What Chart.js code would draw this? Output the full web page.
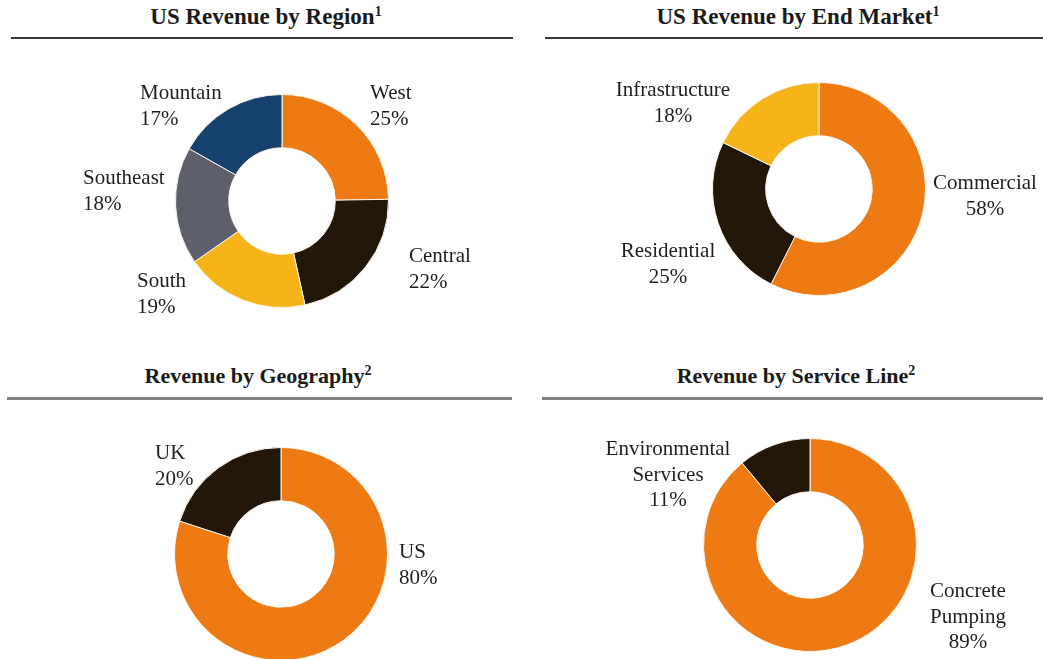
<!DOCTYPE html>
<html>
<head>
<meta charset="utf-8">
<script src="https://cdn.jsdelivr.net/npm/chart.js@4.4.1/dist/chart.umd.min.js"></script>
<style>
  html, body { margin: 0; padding: 0; background: #fff; }
  body { width: 1043px; height: 659px; position: relative; overflow: hidden; }
  canvas { position: absolute; }
  .title {
    position: absolute; text-align: center; white-space: nowrap;
    font-family: 'Liberation Serif', 'Times New Roman', serif;
    font-weight: bold; font-size: 22px; line-height: 22px; color: #1a1a1a;
  }
  .title.big { font-size: 23px; }
  .title sup { font-size: 14px; vertical-align: 0; position: relative; top: -8px; }
  .rule { position: absolute; height: 2px; }
</style>
</head>
<body>
<div class="title big" style="left:66px; width:400px; top:6px;">US Revenue by Region<sup>1</sup></div>
<div class="rule" style="left:11px; width:502px; top:37px; background:#3a3a3a;"></div>
<div class="title big" style="left:598px; width:400px; top:6px;">US Revenue by End Market<sup>1</sup></div>
<div class="rule" style="left:545px; width:498px; top:37px; background:#3a3a3a;"></div>
<div class="title" style="left:58px; width:400px; top:365px;">Revenue by Geography<sup>2</sup></div>
<div class="rule" style="left:7px; width:505px; top:397px; height:3px; background:#808080;"></div>
<div class="title" style="left:596px; width:400px; top:365px;">Revenue by Service Line<sup>2</sup></div>
<div class="rule" style="left:542px; width:501px; top:397px; height:3px; background:#808080;"></div>

<canvas id="region" width="521" height="296" style="left:0; top:42px;"></canvas>
<canvas id="market" width="522" height="296" style="left:521px; top:42px;"></canvas>
<canvas id="geo" width="521" height="270" style="left:0; top:402px;"></canvas>
<canvas id="service" width="522" height="257" style="left:521px; top:402px;"></canvas>

<script>
// data
const regionLabels = ['West', 'Central', 'South', 'Southeast', 'Mountain'];
const regionValues = [25, 22, 19, 18, 17];

const marketLabels = ['Commercial', 'Residential', 'Infrastructure'];
const marketValues = [58, 25, 18];

const geoLabels = ['US', 'UK'];
const geoValues = [80, 20];

const serviceLabels = [['Concrete', 'Pumping'], ['Environmental', 'Services']];
const serviceValues = [89, 11];

// colours
const orange = '#EE7A13';
const dark = '#221708';
const yellow = '#F7B419';
const gray = '#5D5F6B';
const navy = '#18426E';

// label placement, relative to the ring centre (x, baseline of first line)
const labelFont = "21px 'Liberation Serif', 'Times New Roman', serif";

const sliceLabels = {
  id: 'sliceLabels',
  afterDraw(chart, args, opts) {
    const ctx = chart.ctx;
    const arc = chart.getDatasetMeta(0).data[0];
    if (!arc) return;
    const cx = arc.x, cy = arc.y;
    const labels = chart.data.labels;
    const values = chart.data.datasets[0].data;
    ctx.save();
    ctx.font = labelFont;
    ctx.fillStyle = '#1e1e1e';
    ctx.textAlign = opts.align;
    ctx.textBaseline = 'alphabetic';
    labels.forEach((lab, i) => {
      const pos = opts.pos[i];
      const lines = [].concat(lab, values[i] + '%');
      lines.forEach((t, j) => {
        ctx.fillText(t, cx + pos[0], cy + pos[1] + j * opts.lineHeight);
      });
    });
    ctx.restore();
  }
};

function ringPadding(canvas, cx, cy, r) {
  const left = parseFloat(canvas.style.left);
  const top = parseFloat(canvas.style.top);
  return {
    left: cx - r - left,
    right: left + canvas.width - (cx + r),
    top: cy - r - top,
    bottom: top + canvas.height - (cy + r)
  };
}

function makeDoughnut(id, labels, values, colors, center, labelOpts) {
  const canvas = document.getElementById(id);
  return new Chart(canvas, {
    type: 'doughnut',
    data: {
      labels,
      datasets: [{
        data: values,
        backgroundColor: colors,
        borderColor: '#fdf6ee',
        borderWidth: 1
      }]
    },
    options: {
      responsive: false,
      animation: false,
      cutout: '50%',
      layout: { padding: ringPadding(canvas, center[0], center[1], 107) },
      plugins: {
        legend: { display: false },
        tooltip: { enabled: false },
        sliceLabels: labelOpts
      }
    },
    plugins: [sliceLabels]
  });
}

makeDoughnut('region', regionLabels, regionValues,
  [orange, dark, yellow, gray, navy], [282, 201],
  { align: 'left', lineHeight: 26,
    pos: [[88, -102], [127, 61], [-145, 86], [-199, -17], [-142, -102]] });

makeDoughnut('market', marketLabels, marketValues,
  [orange, dark, yellow], [819, 189],
  { align: 'center', lineHeight: 26,
    pos: [[166, 0], [-151, 68], [-146, -93]] });

makeDoughnut('geo', geoLabels, geoValues,
  [orange, dark], [281, 554],
  { align: 'left', lineHeight: 25.5,
    pos: [[118, 4], [-126, -95]] });

makeDoughnut('service', serviceLabels, serviceValues,
  [orange, dark], [810, 545],
  { align: 'center', lineHeight: 25.5,
    pos: [[158, 52], [-142, -90]] });
</script>
</body>
</html>
